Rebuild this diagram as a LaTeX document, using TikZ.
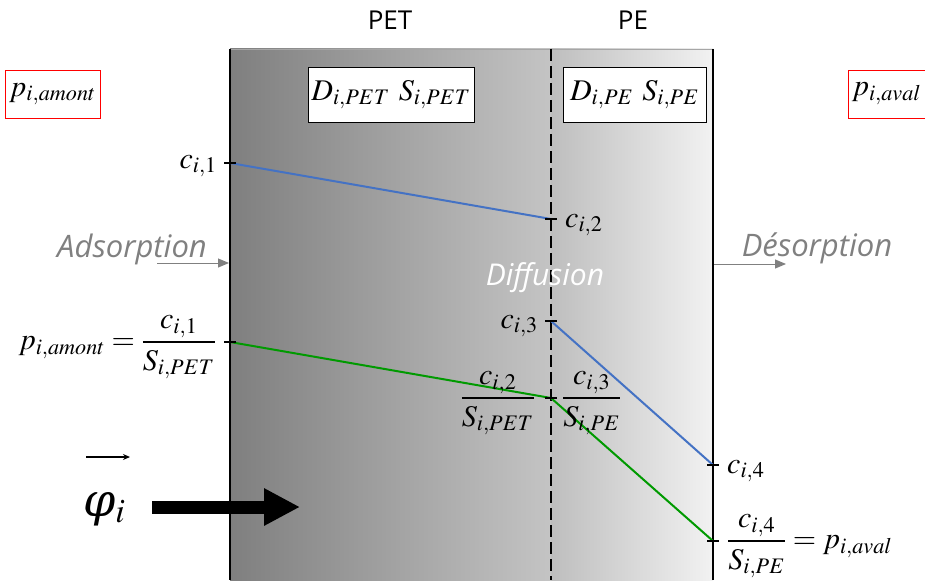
\documentclass[tikz,border=0pt]{standalone}
\usepackage{amsmath}
\usepackage{mathptmx}
\usepackage[no-math]{fontspec}
\usepackage{xcolor}
\usepackage{tikz}
\usetikzlibrary{positioning,arrows.meta}
\newfontfamily\labelsans{Open Sans}
\newfontfamily\phifont{DejaVu Serif}
\definecolor{petleft}{HTML}{7F7F7F}
\definecolor{petright}{HTML}{C4C4C4}
\definecolor{peleft}{HTML}{BEBEBE}
\definecolor{peright}{HTML}{F2F2F2}
\definecolor{concblue}{HTML}{4472C4}
\definecolor{pressgreen}{HTML}{009A00}
\definecolor{notegray}{HTML}{808080}

\begin{document}
\begin{tikzpicture}[
    x=1pt, y=-1pt,
    eq/.style={inner sep=0pt, font=\fontsize{30}{36}\selectfont},
    coef/.style={draw, thick, fill=white, inner sep=0pt, minimum height=55pt, font=\fontsize{30}{36}\selectfont},
    pbox/.style={draw=red, thick, fill=white, inner sep=0pt, minimum height=48pt, font=\fontsize{30}{36}\selectfont},
    layer/.style={inner sep=0pt, anchor=base, font=\labelsans\fontsize{26}{30}\selectfont},
    proc/.style={inner sep=0pt, anchor=base, font=\labelsans\itshape\fontsize{31}{36}\selectfont, text=notegray},
    arr/.style={-{Triangle[length=11pt,width=9pt]}, draw=notegray, line width=1pt},
    tickmark/.style={black, line width=1.2pt},
    cline/.style={concblue, line width=2pt},
    pline/.style={pressgreen, line width=2pt}
]
    \useasboundingbox (0,0) rectangle (925,586);

    \shade[left color=petleft, right color=petright] (230,49) rectangle (551,580);
    \shade[left color=peleft, right color=peright] (551,49) rectangle (713,580);
    \draw[notegray!70, line width=0.8pt] (230,49) -- (713,49);
    \draw[line width=2pt] (230,49) -- (230,580);
    \draw[line width=1.5pt] (713,49) -- (713,580);
    \draw[line width=1.5pt, dash pattern=on 12pt off 5pt] (551,49) -- (551,580);

    \node[layer] (pet) at (390,30) {PET};
    \node[layer] (pe) at (633,30) {PE};

    \node[coef, minimum width=166pt] (dpet) at (391,94.5) {$D_{i,PET}\ S_{i,PET}$};
    \node[coef, minimum width=143pt] (dpe) at (634.5,94.5) {$D_{i,PE}\ S_{i,PE}$};
    \node[pbox, minimum width=95pt] (amont) at (52.5,94) {$p_{i,amont}$};
    \node[pbox, minimum width=77pt] (aval) at (886.5,94) {$p_{i,aval}$};

    \coordinate (c1) at (230,163);
    \coordinate (c2) at (551,219);
    \coordinate (c3) at (551,321);
    \coordinate (c4) at (713,465);
    \coordinate (p1) at (230,342);
    \coordinate (p2) at (551,398);
    \coordinate (p4) at (713,541);

    \draw[cline] (c1) -- (c2);
    \draw[cline] (c3) -- (c4);
    \draw[pline] (p1) -- (p2) -- (p4);
    \foreach \pt in {c1,c2,c3,c4,p1,p2,p4}
        \draw[tickmark] ([xshift=-6pt]\pt) -- ([xshift=6pt]\pt);

    \node[eq, anchor=base east] (lc1) at (217,168) {$c_{i,1}$};
    \node[eq, anchor=base west] (lc2) at (565,227) {$c_{i,2}$};
    \node[eq, anchor=base east] (lc3) at (538,328) {$c_{i,3}$};
    \node[eq, anchor=base west] (lc4) at (727,473) {$c_{i,4}$};
    \node[eq, anchor=base east] (lp1) at (216,349.5) {$p_{i,amont}=\dfrac{c_{i,1}}{S_{i,PET}}$};
    \node[eq, anchor=base east] (lp2) at (535,405.5) {$\dfrac{c_{i,2}}{S_{i,PET}}$};
    \node[eq, anchor=base west] (lp3) at (562,405.5) {$\dfrac{c_{i,3}}{S_{i,PE}}$};
    \node[eq, anchor=base west] (lp4) at (727,548.5) {$\dfrac{c_{i,4}}{S_{i,PE}}=p_{i,aval}$};

    \node[proc] (ads) at (132,257) {Adsorption};
    \node[proc] (des) at (817,256) {Désorption};
    \node[proc, font=\labelsans\itshape\fontsize{30}{36}\selectfont, text=white] (diff) at (545,285) {Diffusion};
    \coordinate (adsin) at (157,263);
    \coordinate (adsout) at (229,263);
    \coordinate (desin) at (714,264);
    \coordinate (desout) at (786,264);
    \draw[arr] (adsin) -- (adsout);
    \draw[arr] (desin) -- (desout);

    \node[inner sep=0pt, anchor=base west, font=\fontsize{46}{52}\selectfont] (phi) at (83,516) {{\phifont\itshape φ}$_i$};
    \coordinate (vecl) at (86,457);
    \coordinate (vecr) at (130,457);
    \draw[-{Stealth[length=7pt,width=6pt]}, line width=1.5pt] (vecl) -- (vecr);
    \coordinate (fluxin) at (152,507);
    \coordinate (fluxout) at (300,507);
    \draw[line width=13pt, -{Triangle[length=36pt,width=35pt]}] (fluxin) -- (fluxout);
\end{tikzpicture}
\end{document}
